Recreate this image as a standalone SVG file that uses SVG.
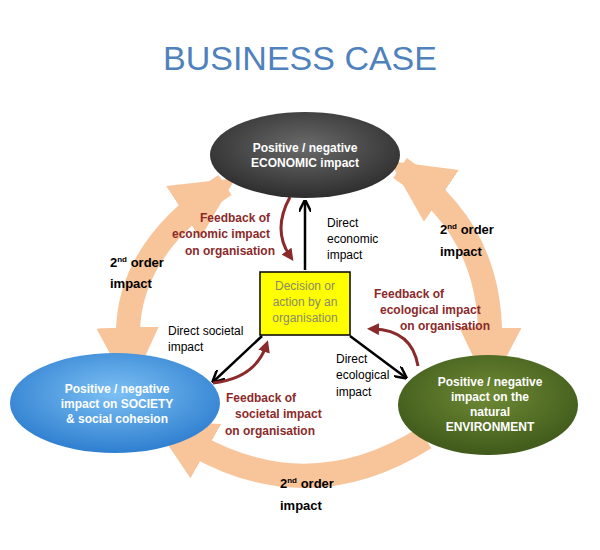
<svg xmlns="http://www.w3.org/2000/svg" width="600" height="550" viewBox="0 0 600 550">
<defs>
<style>
.t{font-family:"Liberation Sans",Arial,sans-serif;font-weight:bold;font-size:12px}
.w{fill:#fff}.k{fill:#000}.r{fill:#8b2a2a}
.n{font-family:"Liberation Sans",Arial,sans-serif;font-size:12px;fill:#000}
.big{fill:none;stroke:#f8c49a;stroke-width:24}
.blk{fill:none;stroke:#000;stroke-width:2.5}
.red{fill:none;stroke:#8b2a2a;stroke-width:3}
</style>
<marker id="ah" viewBox="0 0 10 10" refX="8" refY="5" markerWidth="5" markerHeight="5" orient="auto"><path d="M0,0 L10,5 L0,10" fill="none" stroke="#000" stroke-width="2"/></marker>
<marker id="rh" viewBox="0 0 10 10" refX="5" refY="5" markerWidth="4" markerHeight="4" orient="auto"><path d="M0,0 L10,5 L0,10z" fill="#8b2a2a"/></marker>
<marker id="oh" viewBox="0 0 10 10" refX="2" refY="5" markerWidth="2.6" markerHeight="2.6" orient="auto"><path d="M0,0 L10,5 L0,10z" fill="#f8c49a"/></marker>
<marker id="os" viewBox="0 0 10 10" refX="8" refY="5" markerWidth="2.6" markerHeight="2.6" orient="auto-start-reverse"><path d="M0,0 L10,5 L0,10z" fill="#f8c49a"/></marker>
<radialGradient id="gd" cx="0.5" cy="0.4" r="0.6"><stop offset="0" stop-color="#6a6a6a"/><stop offset="1" stop-color="#2e2e2e"/></radialGradient>
<radialGradient id="gb" cx="0.5" cy="0.4" r="0.6"><stop offset="0" stop-color="#7cc0f4"/><stop offset="1" stop-color="#2f7fd0"/></radialGradient>
<radialGradient id="gg" cx="0.5" cy="0.4" r="0.6"><stop offset="0" stop-color="#6f8a35"/><stop offset="1" stop-color="#3f5a1a"/></radialGradient>
</defs>
<text x="300" y="70" text-anchor="middle" style="font-family:'Liberation Sans',Arial,sans-serif;font-size:34px;fill:#4f81bd">BUSINESS CASE</text>
<g id="connectors">
<path class="big" d="M225,185 Q125,250 128,340" marker-end="url(#oh)" marker-start="url(#os)"/>
<path class="big" d="M400,168 Q492,230 490,340" marker-end="url(#oh)" marker-start="url(#os)"/>
<path class="big" d="M425,438 Q310,510 195,445" marker-end="url(#oh)"/>
<path class="blk" d="M305,270 V202" marker-end="url(#ah)"/>
<path class="blk" d="M262,336 L214,381" marker-end="url(#ah)"/>
<path class="blk" d="M350,336 L405,377" marker-end="url(#ah)"/>
<path class="red" d="M290,197 Q272,230 290,256" marker-end="url(#rh)"/>
<path class="red" d="M418,366 Q412,330 373,329" marker-end="url(#rh)"/>
<path class="red" d="M213,383 Q255,378 266,346" marker-end="url(#rh)"/>
</g>
<g id="economic"><ellipse cx="305" cy="155" rx="95" ry="43" fill="url(#gd)"/>
<text class="t w" text-anchor="middle"><tspan x="305" y="152">Positive / negative</tspan><tspan x="305" y="167">ECONOMIC impact</tspan></text></g>
<g id="society"><ellipse cx="115" cy="403" rx="105" ry="50" fill="url(#gb)"/>
<text class="t w" text-anchor="middle"><tspan x="117" y="393">Positive / negative</tspan><tspan x="117" y="408">impact on SOCIETY</tspan><tspan x="117" y="423">&amp; social cohesion</tspan></text></g>
<g id="environment"><ellipse cx="488" cy="405" rx="90" ry="50" fill="url(#gg)"/>
<text class="t w" text-anchor="middle"><tspan x="490" y="386">Positive / negative</tspan><tspan x="490" y="401">impact on the</tspan><tspan x="490" y="416">natural</tspan><tspan x="490" y="431">ENVIRONMENT</tspan></text></g>
<g id="decision"><rect x="260" y="272" width="90" height="63" fill="#ffff00" stroke="#000" stroke-width="1.5"/>
<text class="n" text-anchor="middle" style="fill:#8a8a6a"><tspan x="305" y="290">Decision or</tspan><tspan x="305" y="306">action by an</tspan><tspan x="305" y="322">organisation</tspan></text></g>
<g id="labels">
<text class="t r" text-anchor="end"><tspan x="270" y="222">Feedback of</tspan><tspan x="270" y="238">economic impact</tspan><tspan x="275" y="255">on organisation</tspan></text>
<text class="n"><tspan x="327" y="227">Direct</tspan><tspan x="327" y="243">economic</tspan><tspan x="327" y="259">impact</tspan></text>
<text class="t r"><tspan x="374" y="298">Feedback of</tspan><tspan x="380" y="314">ecological impact</tspan><tspan x="400" y="330">on organisation</tspan></text>
<text class="n"><tspan x="168" y="335">Direct societal</tspan><tspan x="168" y="351">impact</tspan></text>
<text class="n"><tspan x="336" y="363">Direct</tspan><tspan x="336" y="379">ecological</tspan><tspan x="336" y="396">impact</tspan></text>
<text class="t r"><tspan x="226" y="402">Feedback of</tspan><tspan x="235" y="418">societal impact</tspan><tspan x="225" y="435">on organisation</tspan></text>
<text class="t k" style="font-size:13px"><tspan x="110" y="267">2<tspan font-size="8" dy="-5">nd</tspan><tspan dy="5"> order</tspan></tspan><tspan x="110" y="288">impact</tspan></text>
<text class="t k" style="font-size:13px"><tspan x="440" y="234">2<tspan font-size="8" dy="-5">nd</tspan><tspan dy="5"> order</tspan></tspan><tspan x="440" y="256">impact</tspan></text>
<text class="t k" style="font-size:13px"><tspan x="280" y="488">2<tspan font-size="8" dy="-5">nd</tspan><tspan dy="5"> order</tspan></tspan><tspan x="280" y="510">impact</tspan></text>
</g>
</svg>
